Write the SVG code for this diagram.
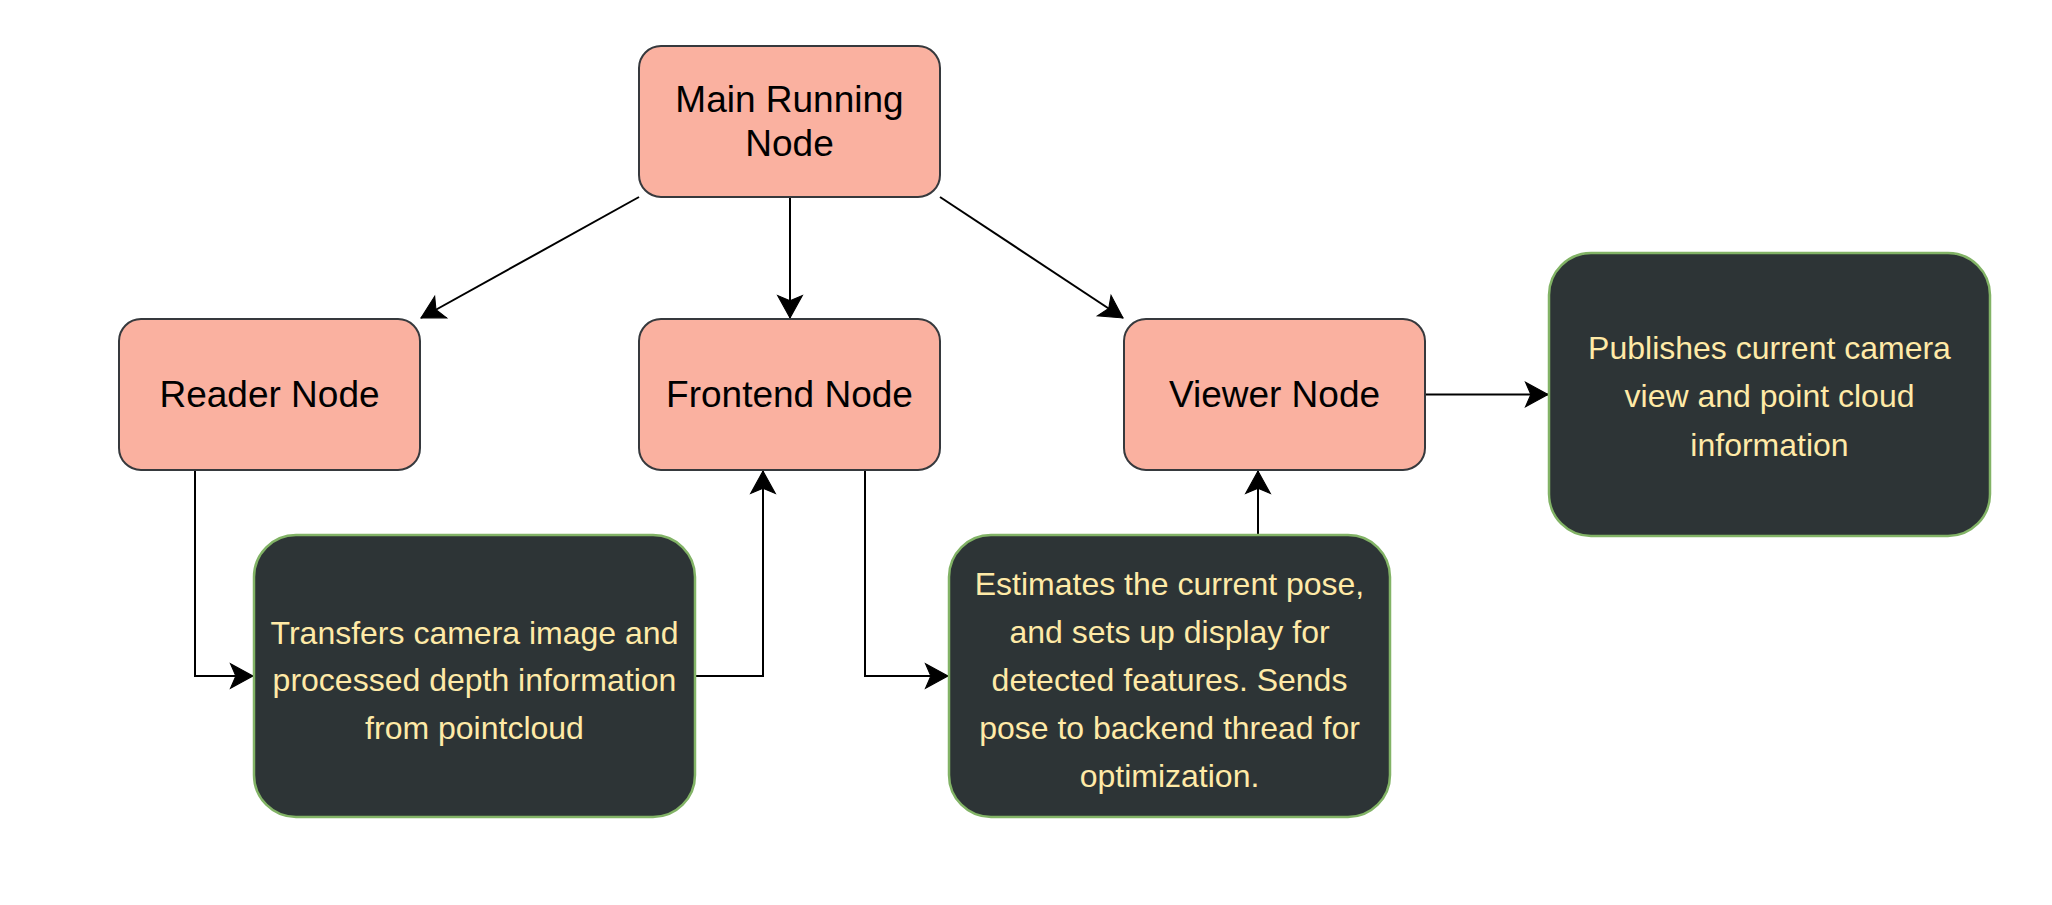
<svg xmlns="http://www.w3.org/2000/svg" width="2052" height="905" viewBox="0 0 2052 905">
  <style>
    .pink rect { fill: #FAB1A0; stroke: #36393D; stroke-width: 2; }
    .dark rect { fill: #2D3436; stroke: #82B366; stroke-width: 2.5; }
    .pink text { font-family: "Liberation Sans", Arial, sans-serif; font-size: 37px; fill: #000000; text-anchor: middle; }
    .dark text { font-family: "Liberation Sans", Arial, sans-serif; font-size: 32px; fill: #FFEAA7; text-anchor: middle; }
    .conn path { fill: none; stroke: #000000; stroke-width: 2; marker-end: url(#arrow); }
  </style>
  <defs>
    <marker id="arrow" markerUnits="userSpaceOnUse" markerWidth="30" markerHeight="30" viewBox="-24 -14 28 28" refX="0" refY="0" orient="auto">
      <path d="M0,0 L-21,-11.5 L-16,0 L-21,11.5 Z" fill="#000000" stroke="#000000" stroke-width="1"/>
    </marker>
  </defs>
  <rect width="2052" height="905" fill="#FFFFFF"/>

  <g id="connectors" class="conn">
    <path d="M790,197 L790,318"/>
    <path d="M639,197 L421,318"/>
    <path d="M940,197 L1123,318"/>
    <path d="M195,470 L195,676 L253,676"/>
    <path d="M695,676 L763,676 L763,471"/>
    <path d="M865,470 L865,676 L948,676"/>
    <path d="M1258,535 L1258,471"/>
    <path d="M1425,394.5 L1548,394.5"/>
  </g>

  <g id="main-running-node" class="pink">
    <rect x="639" y="46" width="301" height="151" rx="22" ry="22"/>
    <text x="789.5" y="112">Main Running</text>
    <text x="789.5" y="156">Node</text>
  </g>

  <g id="reader-node" class="pink">
    <rect x="119" y="319" width="301" height="151" rx="22" ry="22"/>
    <text x="269.5" y="407">Reader Node</text>
  </g>

  <g id="frontend-node" class="pink">
    <rect x="639" y="319" width="301" height="151" rx="22" ry="22"/>
    <text x="789.5" y="407">Frontend Node</text>
  </g>

  <g id="viewer-node" class="pink">
    <rect x="1124" y="319" width="301" height="151" rx="22" ry="22"/>
    <text x="1274.5" y="407">Viewer Node</text>
  </g>

  <g id="reader-description" class="dark">
    <rect x="254" y="535" width="441" height="282" rx="42" ry="42"/>
    <text x="474.5" y="643.5">Transfers camera image and</text>
    <text x="474.5" y="691">processed depth information</text>
    <text x="474.5" y="738.5">from pointcloud</text>
  </g>

  <g id="frontend-description" class="dark">
    <rect x="949" y="535" width="441" height="282" rx="42" ry="42"/>
    <text x="1169.5" y="595">Estimates the current pose,</text>
    <text x="1169.5" y="643">and sets up display for</text>
    <text x="1169.5" y="691">detected features. Sends</text>
    <text x="1169.5" y="739">pose to backend thread for</text>
    <text x="1169.5" y="787">optimization.</text>
  </g>

  <g id="viewer-description" class="dark">
    <rect x="1549" y="253" width="441" height="283" rx="42" ry="42"/>
    <text x="1769.5" y="358.5">Publishes current camera</text>
    <text x="1769.5" y="407">view and point cloud</text>
    <text x="1769.5" y="455.5">information</text>
  </g>
</svg>
